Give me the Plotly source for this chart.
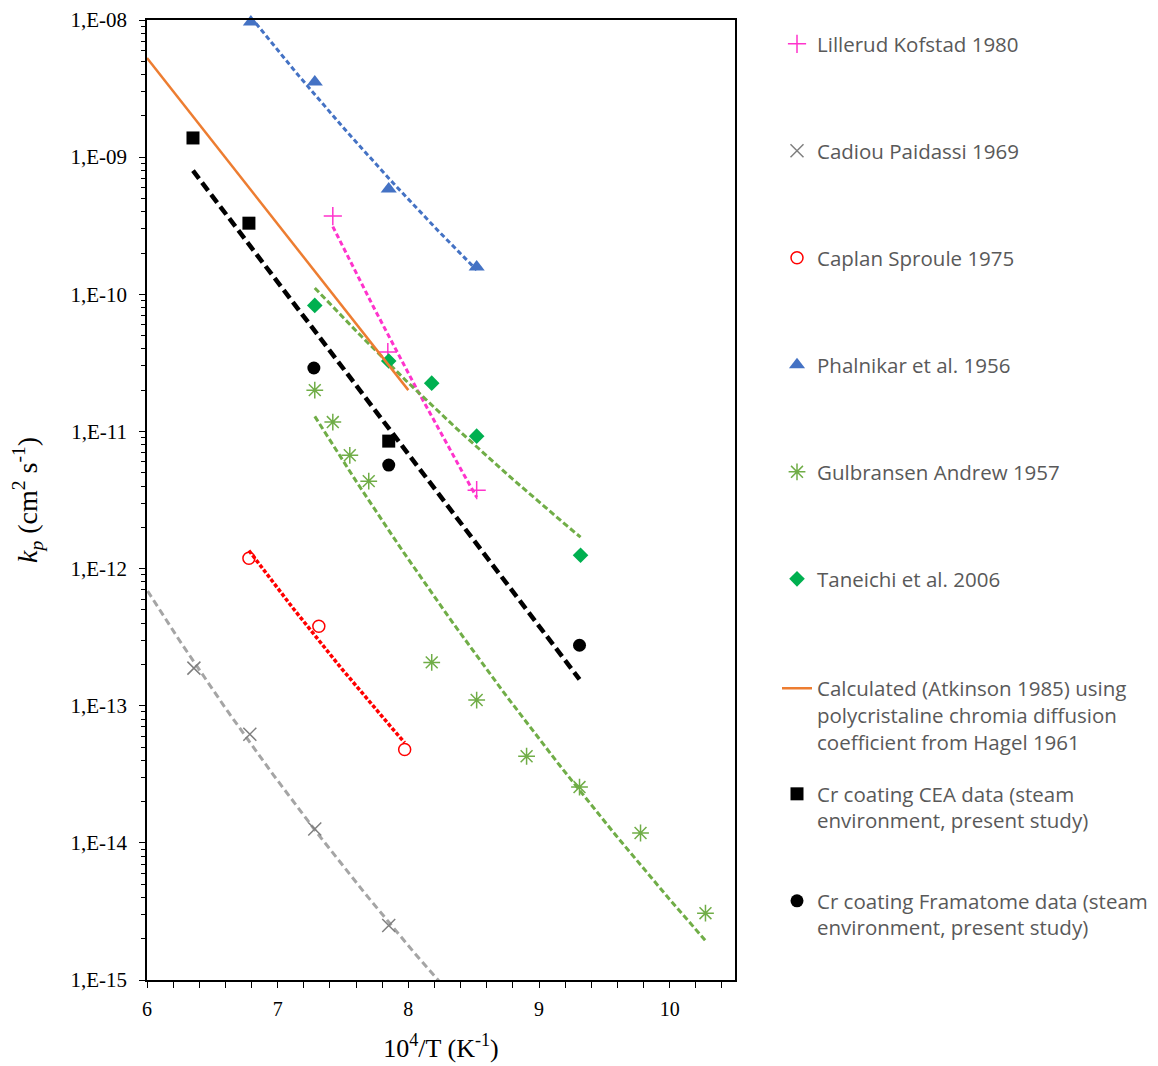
import numpy as np
import plotly.graph_objects as go

# ---------------- data ----------------
lill_x = [7.422, 7.843, 8.523]
lill_y = [3.72e-10, 3.79e-11, 3.73e-12]

cad_x = [6.359, 6.787, 7.284, 7.850]
cad_y = [1.88e-13, 6.2e-14, 1.26e-14, 2.5e-15]

cap_x = [6.780, 7.315, 7.972]
cap_y = [1.19e-12, 3.8e-13, 4.8e-14]

pha_x = [6.795, 7.284, 7.850, 8.523]
pha_y = [9.67e-9, 3.53e-9, 5.85e-10, 1.58e-10]

gul_x = [7.284, 7.422, 7.552, 7.697, 8.179, 8.523, 8.905, 9.310, 9.777, 10.274]
gul_y = [2.0e-11, 1.17e-11, 6.7e-12, 4.34e-12, 2.07e-13, 1.1e-13, 4.28e-14, 2.55e-14, 1.18e-14, 3.07e-15]

tan_x = [7.284, 7.850, 8.179, 8.523, 9.318]
tan_y = [8.3e-11, 3.26e-11, 2.25e-11, 9.24e-12, 1.25e-12]

calc_x = [6.0, 8.0]
calc_y = [5.28e-9, 2.0e-11]

cea_x = [6.352, 6.780, 7.850]
cea_y = [1.38e-9, 3.3e-10, 8.5e-12]

fra_x = [7.277, 7.850, 9.310]
fra_y = [2.9e-11, 5.68e-12, 2.76e-13]

ytick_vals = [1e-15, 1e-14, 1e-13, 1e-12, 1e-11, 1e-10, 1e-9, 1e-8]
ytick_text = ["1,E-15", "1,E-14", "1,E-13", "1,E-12", "1,E-11", "1,E-10", "1,E-09", "1,E-08"]

names = [
    "Lillerud Kofstad 1980",
    "Cadiou Paidassi 1969",
    "Caplan Sproule 1975",
    "Phalnikar et al. 1956",
    "Gulbransen Andrew 1957",
    "Taneichi et al. 2006",
    "Calculated (Atkinson 1985) using<br>polycristaline chromia diffusion<br>coefficient from Hagel 1961",
    "Cr coating CEA data (steam<br>environment, present study)",
    "Cr coating Framatome data (steam<br>environment, present study)",
]

# ---------------- helpers ----------------
def fit_trend(xs, ys, x0, x1, kind="power", n=80):
    xs = np.asarray(xs, float)
    ly = np.log10(np.asarray(ys, float))
    xx = np.linspace(x0, x1, n)
    if kind == "power":
        b, a = np.polyfit(np.log10(xs), ly, 1)
        return xx, 10 ** (a + b * np.log10(xx))
    b, a = np.polyfit(xs, ly, 1)  # exponential
    return xx, 10 ** (a + b * xx)

fig = go.Figure()

def trend(xs, ys, x0, x1, color, width, dash, kind="power"):
    xx, yy = fit_trend(xs, ys, x0, x1, kind)
    fig.add_trace(go.Scatter(x=xx, y=yy, mode="lines", showlegend=False, hoverinfo="skip",
                             line=dict(color=color, width=width, dash=dash)))

# trendlines
trend(pha_x, pha_y, min(pha_x), max(pha_x), "#4472C4", 3, "5px,3px")
trend(lill_x, lill_y, min(lill_x), max(lill_x), "#FF33CC", 3, "5px,3px")
trend(cad_x, cad_y, min(cad_x) - 0.4, max(cad_x) + 0.6, "#A5A5A5", 3, "7px,4px")
trend(cap_x, cap_y, min(cap_x), max(cap_x), "#FF0000", 3.5, "4px,2px")
trend(gul_x, gul_y, min(gul_x), max(gul_x), "#70AD47", 3, "6px,3px")
trend(tan_x, tan_y, min(tan_x), max(tan_x), "#70AD47", 3, "6px,3px")
trend(cea_x + fra_x, cea_y + fra_y, min(cea_x + fra_x), max(cea_x + fra_x), "#000000", 4.5, "10px,5px",
      kind="exp")

# series (each with its own legend to reproduce the spacing)
leg_ids = ["legend", "legend2", "legend3", "legend4", "legend5", "legend6", "legend7", "legend8", "legend9"]

def series(i, xs, ys, **kw):
    fig.add_trace(go.Scatter(x=xs, y=ys, name=names[i], legend=leg_ids[i], cliponaxis=False, **kw))

series(0, lill_x, lill_y, mode="markers",
       marker=dict(symbol="cross-thin", size=13, color="#FF33CC", line=dict(color="#FF33CC", width=1.5)))
series(1, cad_x, cad_y, mode="markers",
       marker=dict(symbol="x-thin", size=13, color="#7F7F7F", line=dict(color="#7F7F7F", width=1.5)))
series(2, cap_x, cap_y, mode="markers",
       marker=dict(symbol="circle-open", size=12, color="#FF0000", line=dict(color="#FF0000", width=1.5)))
series(3, pha_x, pha_y, mode="markers",
       marker=dict(symbol="triangle-up", size=14, color="#4472C4"))
series(4, gul_x, gul_y, mode="markers",
       marker=dict(symbol="asterisk-open", size=14, color="#70AD47", line=dict(color="#70AD47", width=1.5)))
series(5, tan_x, tan_y, mode="markers",
       marker=dict(symbol="diamond", size=12, color="#00B050"))
series(6, calc_x, calc_y, mode="lines", line=dict(color="#ED7D31", width=2.5))
series(7, cea_x, cea_y, mode="markers", marker=dict(symbol="square", size=13, color="#000000"))
series(8, fra_x, fra_y, mode="markers", marker=dict(symbol="circle", size=13, color="#000000"))

# ---------------- layout ----------------
# the page body adds an 8px margin, so the figure is laid out 8px up/left
OFF = 8
W, H = 1158 - OFF, 1066 - OFF
L, R, T, B = 147 - OFF, 735 - OFF, 20 - OFF, 980 - OFF
centers = [44, 151, 258, 365, 472, 579, 715, 807.5, 914.5]
valigns = ["middle"] * 6 + ["top"] * 3
leg_x = (777 - OFF) / W

layout_legends = {}
for lid, cy, va in zip(leg_ids, centers, valigns):
    layout_legends[lid] = dict(
        xref="container", yref="container",
        x=leg_x, xanchor="left", y=(H - (cy - OFF)) / H, yanchor="middle",
        bgcolor="rgba(0,0,0,0)", borderwidth=0, valign=va,
        font=dict(family="Open Sans", size=20.5, color="#595959"),
    )

fig.update_layout(
    width=W, height=H,
    margin=dict(l=L, r=W - R, t=T, b=H - B, autoexpand=False),
    paper_bgcolor="white", plot_bgcolor="white",
    **layout_legends,
)

fig.update_xaxes(
    range=[6, 10.5], tickvals=[6, 7, 8, 9, 10], ticktext=["6", "7", "8", "9", "10"],
    automargin=False, ticklabeloverflow="allow", ticklabelstandoff=4,
    showline=True, linecolor="black", linewidth=1.5, mirror=True,
    ticks="outside", ticklen=6, tickcolor="black", tickwidth=1.2,
    minor=dict(dtick=0.2, ticks="outside", ticklen=6, tickcolor="black", tickwidth=1.2),
    showgrid=False, zeroline=False,
    tickfont=dict(family="Liberation Serif", size=20, color="black"),
    title=dict(text="10<sup>4</sup>/T (K<sup>-1</sup>)", standoff=20,
               font=dict(family="Liberation Serif", size=26, color="black")),
)
fig.update_yaxes(
    type="log", range=[-15, -8], tickvals=ytick_vals, ticktext=ytick_text,
    automargin=False, ticklabeloverflow="allow",
    showline=True, linecolor="black", linewidth=1.5, mirror=True,
    ticks="outside", ticklen=6, tickcolor="black", tickwidth=1.2,
    minor=dict(dtick="D1", ticks="outside", ticklen=4, tickcolor="black", tickwidth=1),
    showgrid=False, zeroline=False, ticklabelstandoff=8,
    tickfont=dict(family="Liberation Serif", size=21, color="black"),
    title=dict(text="<i>k<sub>p</sub></i> (cm<sup>2</sup> s<sup>-1</sup>)", standoff=28,
               font=dict(family="Liberation Serif", size=28, color="black")),
)

fig.write_html("out.html")
